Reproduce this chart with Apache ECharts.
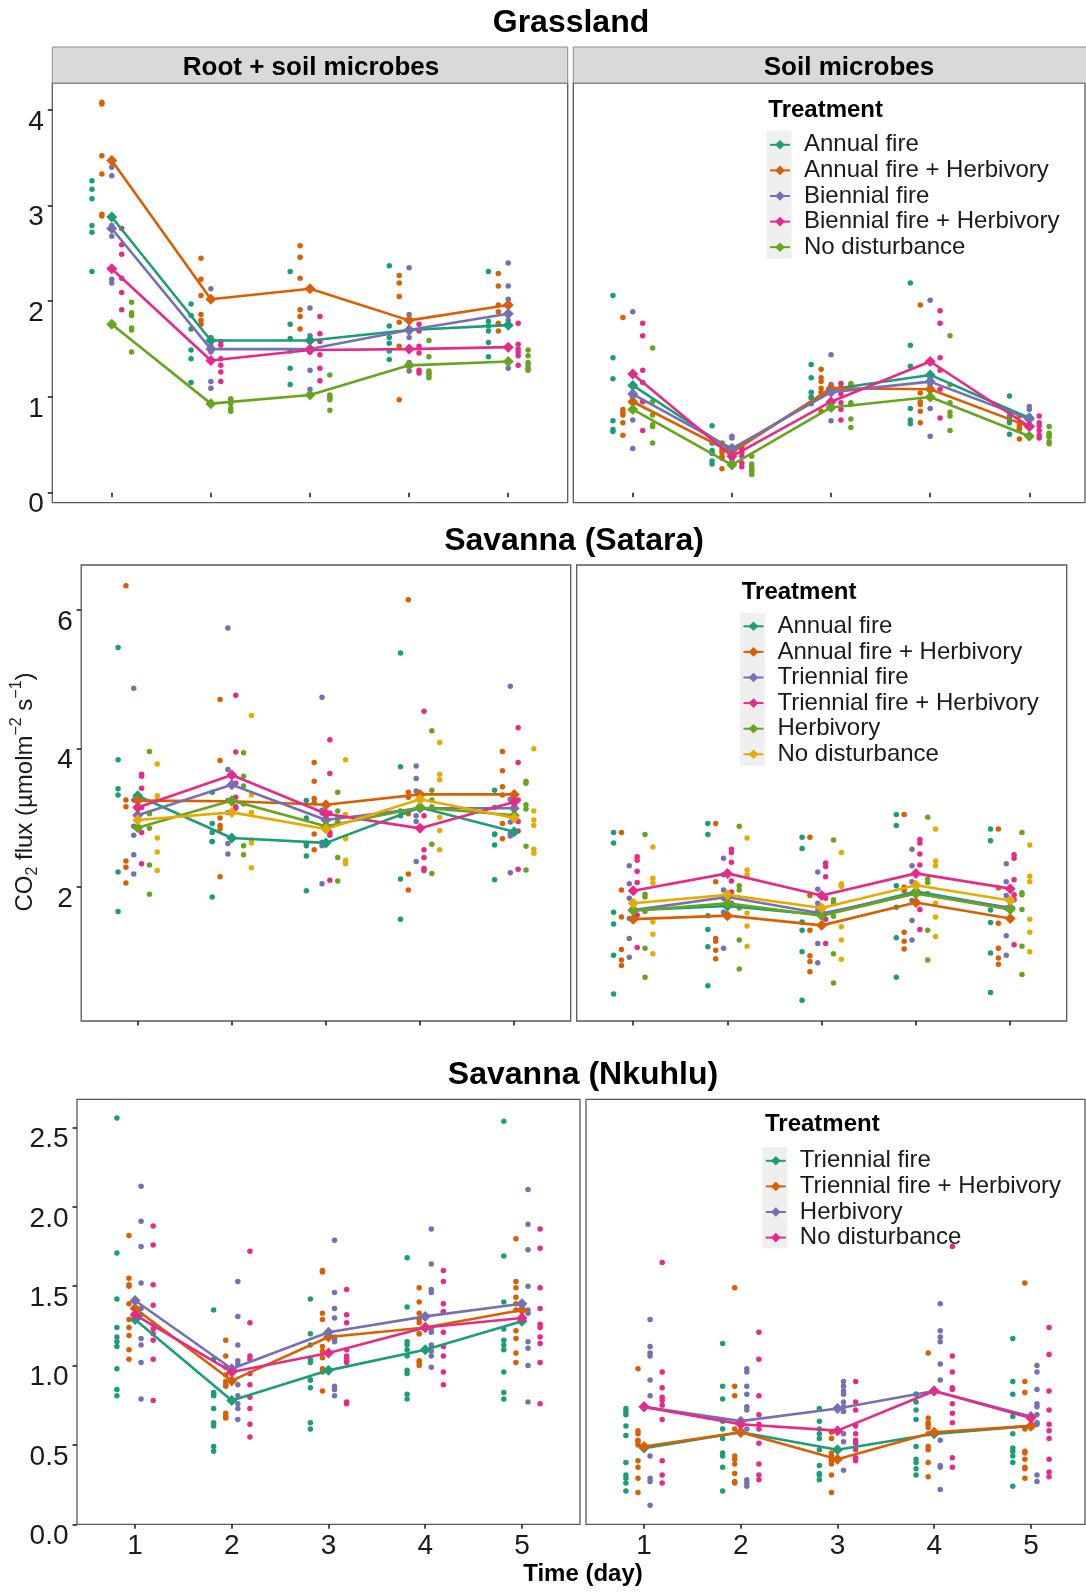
<!DOCTYPE html>
<html>
<head>
<meta charset="utf-8">
<script src="https://cdn.jsdelivr.net/npm/echarts@6/dist/echarts.min.js"></script>
<style>
  html, body { margin: 0; padding: 0; background: #ffffff; }
  #chart { width: 1086px; height: 1592px; }
</style>
</head>
<body>
<div id="chart"></div>
<script>
// ---------------------------------------------------------------------------
// Soil CO2 flux over five days after wetting, per site and treatment.
// Each *Obs array: one entry per treatment -> one list of replicate values per day.
// Each *Means array: one entry per treatment -> treatment mean per day.
// ---------------------------------------------------------------------------
const days = [1, 2, 3, 4, 5];

const grassTreatments = ['Annual fire', 'Annual fire + Herbivory', 'Biennial fire', 'Biennial fire + Herbivory', 'No disturbance'];
const sataraTreatments = ['Annual fire', 'Annual fire + Herbivory', 'Triennial fire', 'Triennial fire + Herbivory', 'Herbivory', 'No disturbance'];
const nkuhluTreatments = ['Triennial fire', 'Triennial fire + Herbivory', 'Herbivory', 'No disturbance'];

const dark2 = ['#1B9E77', '#D95F02', '#7570B3', '#E7298A', '#66A61E', '#E6AB02'];

const grassYTicks = [0, 1, 2, 3, 4];
const sataraYTicks = [2, 4, 6];
const nkuhluYTicks = [0, 0.5, 1, 1.5, 2, 2.5];

// Grassland, root + soil microbes
const grassRootObs = [
  [[3.26, 3.17, 3.07, 2.79, 2.72, 2.31], [1.97, 1.85, 1.71, 1.49, 1.40, 1.15], [2.31, 1.76, 1.61, 1.48, 1.30, 1.13], [2.37, 1.74, 1.62, 1.56, 1.48, 1.39], [2.31, 1.79, 1.74, 1.69, 1.57, 1.42]],
  [[4.08, 4.06, 3.52, 3.33, 2.91, 2.89], [2.45, 2.23, 2.06, 1.86, 1.80, 1.76], [2.58, 2.46, 2.24, 1.91, 1.84, 1.71], [2.27, 2.19, 2.05, 1.78, 1.53, 0.97], [2.29, 2.16, 1.96, 1.89, 1.77, 1.69]],
  [[3.40, 3.31, 2.79, 2.68, 2.23, 2.19], [2.13, 1.62, 1.53, 1.47, 1.16, 1.09], [1.93, 1.64, 1.60, 1.47, 1.28, 1.08], [2.35, 1.86, 1.70, 1.62, 1.36, 1.27], [2.40, 2.16, 2.02, 1.86, 1.80, 1.30]],
  [[2.76, 2.59, 2.49, 2.24, 2.09, 1.91], [1.58, 1.54, 1.40, 1.33, 1.26, 1.16], [1.84, 1.66, 1.58, 1.44, 1.30, 1.17], [1.76, 1.69, 1.53, 1.46, 1.28, 1.25], [1.77, 1.55, 1.50, 1.47, 1.43, 1.33]],
  [[1.99, 1.88, 1.85, 1.72, 1.70, 1.47], [0.98, 0.96, 0.95, 0.93, 0.88, 0.85], [1.23, 1.02, 1.00, 0.99, 0.97, 0.86], [1.59, 1.42, 1.27, 1.25, 1.23, 1.20], [1.49, 1.43, 1.36, 1.33, 1.30, 1.28]]
];
const grassRootMeans = [
  [2.88, 1.59, 1.59, 1.70, 1.75],
  [3.47, 2.02, 2.13, 1.80, 1.96],
  [2.76, 1.50, 1.50, 1.70, 1.87],
  [2.34, 1.38, 1.49, 1.50, 1.52],
  [1.76, 0.93, 1.02, 1.33, 1.37]
];

// Grassland, soil microbes
const grassSoilObs = [
  [[2.06, 1.41, 1.19, 0.75, 0.66, 0.64], [0.70, 0.52, 0.44, 0.41, 0.33, 0.30], [1.34, 1.20, 1.05, 1.00, 0.99, 0.93], [2.19, 1.54, 1.32, 0.88, 0.76, 0.72], [1.01, 0.80, 0.78, 0.75, 0.73, 0.61]],
  [[1.83, 0.87, 0.84, 0.81, 0.73, 0.60], [0.52, 0.45, 0.42, 0.38, 0.36, 0.25], [1.29, 1.20, 1.16, 1.09, 1.05, 0.85], [1.96, 1.04, 0.95, 0.92, 0.85, 0.73], [0.80, 0.73, 0.70, 0.67, 0.66, 0.56]],
  [[1.89, 1.05, 1.03, 1.00, 0.76, 0.46], [0.59, 0.57, 0.48, 0.45, 0.36, 0.33], [1.44, 1.13, 1.10, 1.05, 0.95, 0.75], [2.01, 1.20, 1.16, 1.13, 0.88, 0.59], [0.90, 0.87, 0.80, 0.75, 0.70, 0.59]],
  [[1.77, 1.64, 1.28, 1.15, 0.95, 0.65], [0.48, 0.45, 0.42, 0.38, 0.31, 0.27], [1.14, 1.10, 1.03, 0.94, 0.87, 0.76], [1.90, 1.77, 1.41, 1.28, 1.08, 0.78], [0.80, 0.73, 0.70, 0.65, 0.60, 0.57]],
  [[1.51, 0.95, 0.81, 0.71, 0.69, 0.52], [0.38, 0.30, 0.27, 0.24, 0.22, 0.19], [1.14, 1.12, 0.94, 0.92, 0.77, 0.68], [1.64, 1.13, 0.94, 0.84, 0.80, 0.65], [0.69, 0.62, 0.60, 0.58, 0.53, 0.51]]
];
const grassSoilMeans = [
  [1.12, 0.44, 1.08, 1.23, 0.78],
  [0.95, 0.42, 1.09, 1.08, 0.69],
  [1.03, 0.46, 1.05, 1.16, 0.77],
  [1.24, 0.38, 0.95, 1.37, 0.69],
  [0.87, 0.29, 0.89, 1.00, 0.59]
];

// Savanna (Satara), root + soil microbes
const sataraRootObs = [
  [[5.46, 3.84, 3.42, 3.33, 2.22, 1.65], [3.37, 2.92, 2.79, 2.66, 2.66, 1.86], [3.25, 3.00, 2.63, 2.60, 2.45, 1.95], [5.38, 3.74, 3.10, 3.03, 2.12, 1.54], [3.40, 3.15, 2.77, 2.76, 2.61, 2.11]],
  [[6.35, 3.26, 3.16, 2.38, 2.29, 2.06], [4.71, 3.83, 3.00, 2.89, 2.84, 2.15], [3.80, 3.53, 3.28, 3.22, 2.77, 2.54], [6.15, 3.37, 3.30, 3.06, 2.19, 1.96], [3.96, 3.68, 3.45, 3.33, 2.92, 2.70]],
  [[4.87, 3.26, 2.88, 2.75, 2.47, 2.19], [5.74, 3.70, 3.25, 3.08, 2.63, 2.48], [4.74, 3.11, 3.07, 2.65, 2.60, 2.05], [3.75, 3.57, 3.39, 3.03, 2.95, 2.37], [4.90, 3.27, 2.94, 2.78, 2.74, 2.21]],
  [[3.63, 3.60, 3.43, 3.15, 2.79, 2.34], [4.77, 3.95, 3.50, 3.30, 3.16, 3.14], [4.13, 3.64, 3.07, 2.79, 2.75, 2.10], [4.54, 3.03, 2.54, 2.43, 2.27, 2.24], [4.30, 3.80, 3.26, 2.95, 2.81, 2.26]],
  [[3.96, 3.07, 3.06, 2.85, 2.32, 1.90], [3.94, 3.60, 3.46, 3.20, 2.60, 2.47], [3.37, 3.10, 3.00, 2.95, 2.43, 2.09], [4.26, 3.40, 3.26, 3.16, 2.62, 2.20], [3.53, 3.50, 3.19, 3.13, 2.59, 2.25]],
  [[3.78, 3.32, 3.26, 2.71, 2.51, 2.24], [4.48, 3.33, 3.08, 2.68, 2.64, 2.28], [3.84, 3.05, 2.72, 2.70, 2.39, 2.34], [4.09, 3.63, 3.55, 3.01, 2.82, 2.54], [4.00, 3.10, 2.97, 2.89, 2.55, 2.49]]
];
const sataraRootMeans = [
  [3.32, 2.71, 2.64, 3.15, 2.80],
  [3.25, 3.24, 3.19, 3.34, 3.34],
  [3.04, 3.48, 2.97, 3.14, 3.14],
  [3.15, 3.62, 3.06, 2.85, 3.23],
  [2.86, 3.25, 2.88, 3.15, 3.04],
  [2.97, 3.08, 2.84, 3.27, 3.00]
];

// Savanna (Satara), soil microbes
const sataraSoilObs = [
  [[2.79, 2.64, 1.64, 1.47, 1.02, 0.46], [2.92, 2.76, 1.59, 1.39, 1.14, 0.58], [2.72, 2.56, 1.50, 1.38, 1.07, 0.37], [3.05, 2.89, 2.02, 1.71, 1.27, 0.70], [2.84, 2.67, 1.67, 1.49, 1.05, 0.48]],
  [[2.79, 1.96, 1.57, 1.10, 0.95, 0.87], [2.92, 2.08, 1.26, 1.22, 1.09, 0.97], [2.72, 1.88, 1.38, 1.01, 0.93, 0.78], [3.05, 2.00, 1.95, 1.35, 1.22, 1.11], [2.84, 1.99, 1.48, 1.12, 0.98, 0.89]],
  [[2.31, 2.05, 1.84, 1.55, 1.26, 0.99], [2.42, 2.18, 1.96, 1.84, 1.64, 1.12], [2.22, 1.97, 1.77, 1.66, 1.19, 0.91], [2.55, 2.31, 2.08, 1.81, 1.52, 1.24], [2.34, 2.08, 1.88, 1.70, 1.30, 1.02]],
  [[2.44, 2.39, 2.23, 2.07, 1.60, 1.13], [2.55, 2.50, 2.36, 2.09, 1.93, 1.77], [2.35, 2.30, 2.15, 1.84, 1.54, 1.19], [2.69, 2.64, 2.48, 2.32, 1.68, 1.39], [2.47, 2.42, 2.11, 1.89, 1.82, 1.17]],
  [[2.76, 1.90, 1.86, 1.65, 1.12, 0.70], [2.88, 2.02, 1.96, 1.70, 1.24, 0.82], [2.68, 1.82, 1.78, 1.58, 1.04, 0.62], [3.01, 2.12, 2.07, 1.91, 1.38, 0.95], [2.79, 1.92, 1.89, 1.68, 1.15, 0.74]],
  [[2.58, 2.13, 2.06, 1.50, 1.32, 1.04], [2.71, 2.25, 2.18, 1.63, 1.44, 1.15], [2.50, 2.05, 2.01, 1.43, 1.24, 0.96], [2.84, 2.38, 2.31, 1.77, 1.57, 1.29], [2.61, 2.16, 2.08, 1.54, 1.35, 1.07]]
];
const sataraSoilMeans = [
  [1.67, 1.73, 1.60, 1.94, 1.70],
  [1.54, 1.59, 1.45, 1.78, 1.55],
  [1.67, 1.86, 1.62, 1.91, 1.70],
  [1.95, 2.20, 1.88, 2.20, 1.98],
  [1.66, 1.77, 1.59, 1.91, 1.68],
  [1.77, 1.89, 1.70, 2.03, 1.81]
];

// Savanna (Nkuhlu), root + soil microbes
const nkuhluRootObs = [
  [[2.56, 1.71, 1.42, 1.24, 1.18, 1.15, 1.12, 0.98, 0.85, 0.81], [1.35, 1.04, 0.83, 0.82, 0.81, 0.73, 0.64, 0.62, 0.49, 0.46], [1.42, 1.20, 1.13, 1.04, 1.02, 0.91, 0.91, 0.86, 0.64, 0.60], [1.68, 1.37, 1.15, 1.13, 1.10, 1.06, 0.97, 0.95, 0.82, 0.79], [2.54, 1.69, 1.40, 1.23, 1.16, 1.13, 1.10, 0.96, 0.83, 0.79]],
  [[1.82, 1.55, 1.51, 1.50, 1.39, 1.29, 1.24, 1.19, 1.10, 1.04], [1.16, 1.06, 0.99, 0.94, 0.90, 0.88, 0.87, 0.70, 0.68, 0.67], [1.60, 1.59, 1.33, 1.29, 1.12, 1.09, 1.05, 0.98, 0.96, 0.84], [1.49, 1.40, 1.33, 1.29, 1.27, 1.20, 1.20, 1.03, 1.02, 1.00], [1.80, 1.53, 1.49, 1.43, 1.39, 1.35, 1.22, 1.17, 1.08, 1.02]],
  [[2.13, 1.91, 1.75, 1.52, 1.36, 1.32, 1.17, 1.13, 1.02, 0.79], [1.53, 1.31, 1.13, 1.03, 1.01, 0.88, 0.81, 0.76, 0.73, 0.66], [1.79, 1.46, 1.36, 1.30, 1.18, 1.17, 1.15, 0.87, 0.85, 0.81], [1.86, 1.64, 1.48, 1.46, 1.23, 1.21, 1.13, 1.09, 1.06, 0.99], [2.11, 1.89, 1.73, 1.50, 1.35, 1.33, 1.15, 1.11, 1.00, 0.77]],
  [[1.88, 1.76, 1.51, 1.38, 1.26, 1.23, 1.20, 1.16, 1.04, 0.78], [1.72, 1.27, 1.06, 1.04, 0.95, 0.88, 0.80, 0.73, 0.63, 0.55], [1.48, 1.32, 1.27, 1.10, 1.06, 1.05, 1.03, 1.02, 0.77, 0.76], [1.60, 1.53, 1.39, 1.34, 1.34, 1.21, 1.12, 1.06, 0.96, 0.88], [1.86, 1.74, 1.49, 1.36, 1.26, 1.24, 1.18, 1.14, 1.02, 0.76]]
];
const nkuhluRootMeans = [
  [1.29, 0.78, 0.97, 1.10, 1.28],
  [1.36, 0.905, 1.18, 1.24, 1.35],
  [1.41, 0.98, 1.21, 1.31, 1.39],
  [1.32, 0.96, 1.08, 1.24, 1.30]
];

// Savanna (Nkuhlu), soil microbes
const nkuhluSoilObs = [
  [[0.73, 0.71, 0.69, 0.62, 0.56, 0.39, 0.31, 0.29, 0.26, 0.21], [1.14, 0.87, 0.79, 0.65, 0.60, 0.54, 0.45, 0.43, 0.36, 0.21], [0.73, 0.65, 0.60, 0.57, 0.54, 0.47, 0.37, 0.32, 0.31, 0.28], [0.82, 0.82, 0.77, 0.72, 0.66, 0.49, 0.41, 0.39, 0.35, 0.31], [1.17, 0.90, 0.82, 0.68, 0.57, 0.48, 0.46, 0.43, 0.39, 0.24]],
  [[0.98, 0.59, 0.57, 0.53, 0.52, 0.50, 0.40, 0.36, 0.29, 0.20], [1.49, 0.87, 0.81, 0.60, 0.43, 0.41, 0.38, 0.32, 0.27, 0.26], [0.58, 0.54, 0.45, 0.43, 0.42, 0.41, 0.39, 0.38, 0.31, 0.20], [1.08, 0.67, 0.64, 0.63, 0.61, 0.57, 0.49, 0.47, 0.39, 0.30], [1.52, 0.90, 0.83, 0.60, 0.46, 0.45, 0.41, 0.36, 0.35, 0.29]],
  [[1.29, 1.12, 1.08, 1.06, 0.91, 0.81, 0.43, 0.29, 0.27, 0.12], [0.98, 0.96, 0.87, 0.82, 0.74, 0.72, 0.60, 0.28, 0.26, 0.24], [0.90, 0.87, 0.84, 0.82, 0.77, 0.74, 0.71, 0.57, 0.52, 0.34], [1.39, 1.22, 1.18, 1.15, 1.01, 0.91, 0.53, 0.37, 0.36, 0.22], [1.00, 0.96, 0.85, 0.76, 0.74, 0.69, 0.64, 0.63, 0.31, 0.27]],
  [[1.65, 0.96, 0.86, 0.80, 0.78, 0.75, 0.66, 0.40, 0.31, 0.26], [1.21, 1.04, 0.81, 0.69, 0.63, 0.60, 0.51, 0.38, 0.31, 0.28], [0.90, 0.77, 0.72, 0.62, 0.57, 0.53, 0.51, 0.47, 0.42, 0.40], [1.75, 1.06, 0.96, 0.86, 0.85, 0.76, 0.70, 0.64, 0.42, 0.36], [1.24, 1.07, 0.84, 0.72, 0.63, 0.59, 0.54, 0.41, 0.33, 0.30]]
];
const nkuhluSoilMeans = [
  [0.48, 0.58, 0.47, 0.57, 0.62],
  [0.49, 0.58, 0.41, 0.58, 0.62],
  [0.74, 0.65, 0.73, 0.84, 0.68],
  [0.74, 0.63, 0.59, 0.84, 0.67]
];

// ---------------------------------------------------------------------------
// Layout
// ---------------------------------------------------------------------------
const FONT = '"Liberation Sans", Arial, Helvetica, sans-serif';
const INK = '#1a1a1a';
const BORDER = '#595959';

// box: [left, top, width, height]; x range of each facet starts at 0.4
const panels = [
  { site: 'Grassland', box: [52.3, 83, 515.4, 419.7], xMax: 5.6,   yMin: -0.105, yMax: 4.28, yTicks: grassYTicks, left: true,  xLabels: false, treatments: grassTreatments, obs: grassRootObs, means: grassRootMeans, dec: 0 },
  { site: 'Grassland', box: [573.3, 83, 511.7, 419.7], xMax: 5.562, yMin: -0.105, yMax: 4.28, yTicks: grassYTicks, left: false, xLabels: false, treatments: grassTreatments, obs: grassSoilObs, means: grassSoilMeans, dec: 0 },
  { site: 'Satara', box: [81.2, 565, 489.5, 456], xMax: 5.6, yMin: 0.07, yMax: 6.65, yTicks: sataraYTicks, left: true,  xLabels: false, treatments: sataraTreatments, obs: sataraRootObs, means: sataraRootMeans, dec: 0 },
  { site: 'Satara', box: [576.7, 565, 490, 456],   xMax: 5.6, yMin: 0.07, yMax: 6.65, yTicks: sataraYTicks, left: false, xLabels: false, treatments: sataraTreatments, obs: sataraSoilObs, means: sataraSoilMeans, dec: 0 },
  { site: 'Nkuhlu', box: [77, 1099.3, 503, 425],   xMax: 5.6,   yMin: 0, yMax: 2.678, yTicks: nkuhluYTicks, left: true,  xLabels: true, treatments: nkuhluTreatments, obs: nkuhluRootObs, means: nkuhluRootMeans, dec: 1 },
  { site: 'Nkuhlu', box: [586, 1099.3, 499, 425],  xMax: 5.559, yMin: 0, yMax: 2.678, yTicks: nkuhluYTicks, left: false, xLabels: true, treatments: nkuhluTreatments, obs: nkuhluSoilObs, means: nkuhluSoilMeans, dec: 1 }
];

// horizontal dodge of the replicate columns inside a day (total width 0.5)
function dodge(n, t) { return (t - (n - 1) / 2) * (0.5 / n); }

const series = [];
panels.forEach((p, pi) => {
  const n = p.treatments.length;
  p.treatments.forEach((name, t) => {
    const color = dark2[t];
    const off = dodge(n, t);
    const pts = [];
    p.obs[t].forEach((vals, d) => vals.forEach(v => pts.push([days[d] + off, v])));
    series.push({
      type: 'scatter', name: p.site + '|' + name + '|replicates',
      xAxisIndex: pi, yAxisIndex: pi, data: pts,
      symbol: 'circle', symbolSize: 5.5,
      itemStyle: { color: color, opacity: 1 },
      z: 2, silent: true
    });
    series.push({
      type: 'line', name: p.site + '|' + name,
      xAxisIndex: pi, yAxisIndex: pi,
      data: days.map((d, k) => [d, p.means[t][k]]),
      symbol: 'diamond', symbolSize: 11, showSymbol: true,
      lineStyle: { color: color, width: 2.6 },
      itemStyle: { color: color },
      z: 3, silent: true
    });
  });
});

function legendFor(site, names, left, top) {
  return {
    data: names.map(n => site + '|' + n),
    formatter: name => name.split('|')[1],
    orient: 'vertical', left: left, top: top,
    padding: 0, itemGap: 0, itemWidth: 20, itemHeight: 12,
    selectedMode: false,
    textStyle: { fontFamily: FONT, fontSize: 24, lineHeight: 25.6, color: INK, padding: [0, 0, 0, 9] },
    z: 10
  };
}

function label(x, y, text, font, align) {
  const a = align || 'center';
  return {
    type: 'text', x: x, y: y, z: 20, silent: true,
    style: { text: text, font: font, fill: '#000', align: a, verticalAlign: 'middle', textAlign: a, textVerticalAlign: 'middle' }
  };
}
function keyBack(x, y, w, h) {
  return { type: 'rect', z: 1, silent: true, shape: { x: x, y: y, width: w, height: h }, style: { fill: '#efefef' } };
}

const option = {
  animation: false,
  backgroundColor: '#ffffff',
  textStyle: { fontFamily: FONT },
  grid: panels.map(p => ({
    left: p.box[0], top: p.box[1], width: p.box[2], height: p.box[3],
    show: true, borderColor: BORDER, borderWidth: 1.3, backgroundColor: 'transparent',
    containLabel: false, outerBoundsMode: 'none'
  })),
  xAxis: panels.map((p, i) => ({
    type: 'value', gridIndex: i, min: 0.4, max: p.xMax,
    axisLine: { show: false }, splitLine: { show: false },
    axisTick: { show: true, customValues: days, length: 4.5, lineStyle: { color: '#222', width: 1.6 } },
    axisLabel: { show: p.xLabels, customValues: days, fontSize: 28, color: INK, margin: 8, fontFamily: FONT }
  })),
  yAxis: panels.map((p, i) => ({
    type: 'value', gridIndex: i, min: p.yMin, max: p.yMax, show: p.left,
    axisLine: { show: false }, splitLine: { show: false },
    axisTick: { show: p.left, customValues: p.yTicks, length: 4.5, lineStyle: { color: '#222', width: 1.6 } },
    axisLabel: { show: p.left, customValues: p.yTicks, fontSize: 28, color: INK, margin: 8.5, fontFamily: FONT,
      verticalAlign: 'top', lineHeight: 24,
      formatter: v => Number(v).toFixed(p.dec) }
  })),
  legend: [
    legendFor('Grassland', grassTreatments, 769, 132),
    legendFor('Satara', sataraTreatments, 742.5, 613.5),
    legendFor('Nkuhlu', nkuhluTreatments, 764.8, 1148)
  ],
  series: series,
  graphic: [
    // site titles
    label(571, 23.5, 'Grassland', 'bold 32px ' + FONT),
    label(574, 541, 'Savanna (Satara)', 'bold 32px ' + FONT),
    label(583, 1075, 'Savanna (Nkuhlu)', 'bold 32px ' + FONT),
    // facet strips
    { type: 'rect', z: 1, silent: true, shape: { x: 52.3, y: 47, width: 515.4, height: 36 }, style: { fill: '#d9d9d9', stroke: '#8c8c8c', lineWidth: 1 } },
    { type: 'rect', z: 1, silent: true, shape: { x: 573.3, y: 47, width: 520, height: 36 }, style: { fill: '#d9d9d9', stroke: '#8c8c8c', lineWidth: 1 } },
    label(311, 67.5, 'Root + soil microbes', 'bold 26px ' + FONT),
    label(849, 67.5, 'Soil microbes', 'bold 26px ' + FONT),
    // legend titles and key backgrounds
    label(768.3, 110, 'Treatment', 'bold 24px ' + FONT, 'left'),
    label(741.7, 592, 'Treatment', 'bold 24px ' + FONT, 'left'),
    label(765, 1124.5, 'Treatment', 'bold 24px ' + FONT, 'left'),
    keyBack(766.7, 130.7, 25, 128),
    keyBack(740, 612.7, 25, 153),
    keyBack(762.3, 1147.3, 25, 101),
    // axis titles
    label(583, 1574, 'Time (day)', 'bold 24px ' + FONT),
    {
      type: 'text', x: 25, y: 792, rotation: Math.PI / 2, z: 20, silent: true,
      style: {
        text: '{a|CO}{b|2}{a| flux (\u00b5molm}{c|\u22122}{a| s}{c|\u22121}{a|)}',
        fill: INK, align: 'center', verticalAlign: 'middle', textAlign: 'center', textVerticalAlign: 'middle',
        rich: {
          a: { fontFamily: FONT, fontSize: 24, lineHeight: 32, verticalAlign: 'middle' },
          b: { fontFamily: FONT, fontSize: 16, lineHeight: 16, verticalAlign: 'bottom' },
          c: { fontFamily: FONT, fontSize: 16, lineHeight: 16, verticalAlign: 'top' }
        }
      }
    }
  ]
};

const chart = echarts.init(document.getElementById('chart'), null, { renderer: 'canvas', width: 1086, height: 1592 });
chart.setOption(option);
</script>
</body>
</html>
